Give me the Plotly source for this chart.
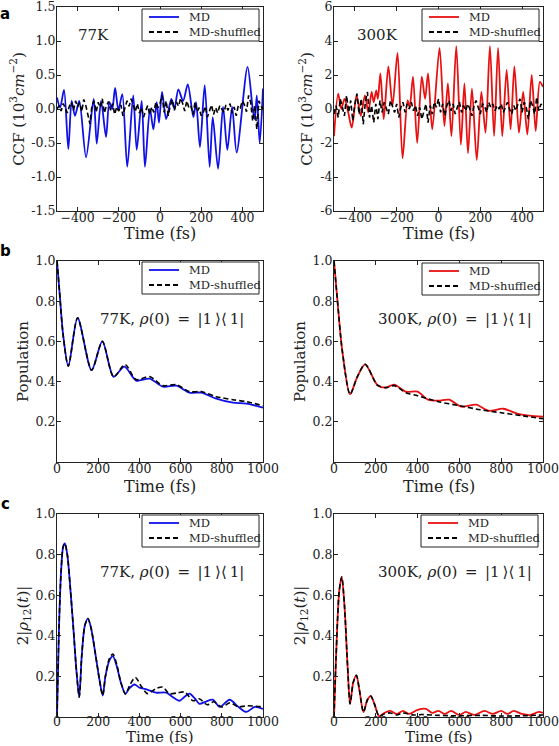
import plotly.graph_objects as go

# ---------------- data ----------------
# Panel a: cross-correlation functions (10^3 cm^-2) vs time (fs)
ccf77_md_t = [-500,-485,-466,-445,-429,-413,-392,-359,-322,-307,-286,-262,-246,-232,-218,-202,-183,-159,-130,-113,
              -89,-73,-49,-32,-16,-5,10,30,55,70,89,112,135,162,175,194,217,241,256,282,306,327,350,372,425,450,460,470,484,500]
ccf77_md_v = [0.17,0.02,0.28,-0.59,0.12,-0.10,0.12,-0.71,0.15,-0.51,0.12,-0.41,0.10,0.00,0.31,-0.02,0.22,-0.85,0.20,-0.60,
              0.12,-0.85,0.00,-0.30,0.10,-0.20,0.25,-0.15,0.15,0.00,0.29,0.12,0.36,-0.12,0.10,-0.56,0.35,-0.85,-0.12,-0.88,
              0.03,-0.60,0.03,-0.64,0.62,0.00,-0.15,0.20,-0.50,0.30]

ccf_shuf_t = list(range(-500, 501, 10))
ccf77_shuf_v = [0.00,0.05,-0.03,0.08,0.02,-0.06,0.04,0.10,-0.02,0.12,
                0.03,0.09,-0.04,0.14,0.05,-0.10,-0.22,0.06,0.12,-0.05,
                0.10,0.02,0.15,-0.06,0.05,0.11,-0.02,0.08,-0.08,0.03,
                -0.03,0.06,-0.10,0.02,0.12,0.04,0.15,0.06,-0.04,0.08,
                -0.06,0.02,-0.12,-0.03,0.05,-0.08,0.03,-0.05,0.10,0.02,
                0.08,0.20,-0.05,0.12,-0.10,0.05,0.14,-0.02,0.10,0.04,
                0.16,0.08,-0.03,0.12,0.02,0.05,-0.08,0.10,-0.04,0.02,
                -0.10,-0.05,0.04,-0.12,-0.02,0.06,-0.08,0.02,-0.06,0.05,
                0.00,-0.05,0.06,-0.02,0.08,-0.06,0.03,-0.10,0.05,0.02,
                0.12,0.06,-0.04,0.20,0.10,-0.18,0.05,-0.30,0.12,0.04,
                0.00]

ccf300_md_t = [-500,-480,-465,-450,-432,-415,-392,-372,-352,-336,-320,-310,-298,-290,-278,-262,-240,-220,-196,-172,
               -148,-138,-122,-102,-80,-64,-50,-30,5,28,45,62,85,107,124,141,160,183,205,225,
               246,266,285,305,326,345,363,385,405,425,446,465,485,500]
ccf300_md_v = [-1.6,0.9,0.0,0.6,-0.2,-1.1,0.8,-0.4,0.8,-0.2,1.0,0.4,1.1,0.6,2.1,-0.6,2.5,0.2,3.3,-2.9,
               0.5,0.1,1.9,-2.0,1.9,0.6,2.1,-1.2,3.6,-1.0,1.5,-1.6,3.7,-2.1,1.5,-2.6,1.2,-3.0,1.0,-1.4,
               3.7,-1.6,3.6,-1.6,2.3,-1.2,2.5,-1.4,1.0,-1.5,2.0,-1.3,1.6,1.3]
ccf300_shuf_v = [-0.3,0.2,-0.5,0.6,0.1,-0.4,0.8,-0.2,0.5,-0.7,
                 0.3,0.9,-0.3,0.6,-0.9,0.4,1.0,-0.5,0.2,-0.8,
                 0.3,-0.6,0.5,-0.2,0.4,0.1,-0.3,0.5,0.2,-0.2,
                 0.3,-0.5,0.1,0.4,-0.2,0.3,0.0,0.4,-0.1,0.2,
                 -0.4,0.1,-0.6,-0.2,0.3,-0.8,0.2,-0.3,0.4,0.1,
                 0.6,-0.2,0.3,-0.4,0.2,0.5,-0.1,0.3,-0.3,0.1,
                 0.4,-0.2,0.2,-0.1,0.3,0.0,-0.4,0.2,0.5,0.1,
                 -0.3,0.3,0.2,-0.2,0.4,0.1,0.3,-0.1,0.2,0.0,
                 0.3,-0.2,0.1,0.4,0.0,-0.3,0.2,-0.1,0.3,0.6,
                 -0.2,0.4,0.1,-0.6,0.5,0.2,-0.3,0.7,-0.1,0.3,
                 0.1]

# Panel b: population of site 1
pop77_md_t = [0,12,30,55,100,168,220,275,327,384,449,514,579,643,700,773,854,920,1000]
pop77_md_v = [1.0,0.85,0.63,0.477,0.717,0.457,0.60,0.424,0.475,0.405,0.415,0.375,0.38,0.345,0.345,0.315,0.295,0.29,0.27]
pop77_sh_t = [0,12,30,55,100,168,220,275,330,384,449,514,579,643,700,773,854,920,1000]
pop77_sh_v = [1.0,0.85,0.63,0.477,0.717,0.457,0.60,0.424,0.485,0.41,0.425,0.38,0.385,0.35,0.35,0.325,0.31,0.30,0.28]

pop300_md_t = [0,15,40,77,110,149,208,248,288,344,400,450,500,550,610,680,740,810,880,1000]
pop300_md_v = [1.0,0.82,0.55,0.337,0.42,0.486,0.382,0.37,0.385,0.35,0.35,0.31,0.305,0.31,0.275,0.285,0.255,0.265,0.24,0.225]
pop300_sh_t = [0,15,40,77,110,149,208,248,288,344,400,500,600,700,800,900,1000]
pop300_sh_v = [1.0,0.82,0.55,0.337,0.42,0.486,0.382,0.37,0.38,0.345,0.33,0.30,0.28,0.26,0.245,0.23,0.215]

# Panel c: coherence 2|rho12(t)|
coh77_md_t = [0,10,20,30,38,50,65,80,95,108,120,135,150,165,185,205,222,235,255,271,290,310,332,350,376,400,
              441,480,530,560,595,620,643,670,692,720,757,790,838,880,919,960,1000]
coh77_md_v = [0.0,0.45,0.72,0.84,0.855,0.80,0.63,0.43,0.22,0.098,0.30,0.45,0.485,0.44,0.32,0.19,0.106,0.20,0.28,0.30,
              0.25,0.17,0.114,0.14,0.16,0.145,0.134,0.12,0.12,0.10,0.08,0.10,0.115,0.09,0.065,0.075,0.085,0.05,0.085,
              0.05,0.025,0.05,0.04]
coh77_sh_t = [0,10,20,30,38,50,65,80,95,108,120,135,150,165,185,205,222,235,255,271,290,310,332,355,380,410,
              440,480,514,545,590,620,660,690,730,760,800,840,880,920,1000]
coh77_sh_v = [0.0,0.45,0.72,0.84,0.855,0.80,0.63,0.43,0.22,0.098,0.30,0.45,0.485,0.44,0.32,0.19,0.106,0.20,0.29,0.31,
              0.26,0.17,0.114,0.16,0.195,0.15,0.115,0.14,0.147,0.115,0.12,0.123,0.08,0.09,0.06,0.075,0.05,0.07,0.05,
              0.055,0.05]

coh300_md_t = [0,10,25,37,50,65,77,92,107,122,141,160,176,195,216,240,270,300,330,360,400,440,470,500,530,560,
               600,630,670,720,760,800,830,860,900,940,980,1000]
coh300_md_v = [0.0,0.30,0.62,0.69,0.55,0.25,0.065,0.17,0.205,0.13,0.024,0.085,0.103,0.06,0.004,0.02,0.03,0.015,
               0.03,0.015,0.035,0.04,0.02,0.03,0.015,0.03,0.01,0.025,0.01,0.03,0.015,0.03,0.015,0.03,0.015,0.01,0.025,0.02]
coh300_sh_t = [0,10,25,37,50,65,77,92,107,122,141,160,176,195,216,240,270,300,330,380,420,500,600,700,800,900,1000]
coh300_sh_v = [0.0,0.30,0.62,0.69,0.55,0.25,0.065,0.17,0.205,0.13,0.024,0.085,0.103,0.06,0.004,0.015,0.02,0.01,
               0.02,0.01,0.012,0.008,0.006,0.008,0.005,0.006,0.01]

# tick values / labels
ccf_x_ticks = [-400, -200, 0, 200, 400]
ccf_x_text = ["\u2212400", "\u2212200", "0", "200", "400"]
ccf77_y_ticks = [-1.5, -1.0, -0.5, 0.0, 0.5, 1.0, 1.5]
ccf77_y_text = ["-1.5", "-1.0", "-0.5", "0.0", "0.5", "1.0", "1.5"]
ccf300_y_ticks = [-6, -4, -2, 0, 2, 4, 6]
ccf300_y_text = ["-6", "-4", "-2", "0", "2", "4", "6"]
time_ticks = [0, 200, 400, 600, 800, 1000]
frac_ticks = [0.2, 0.4, 0.6, 0.8, 1.0]
frac_text = ["0.2", "0.4", "0.6", "0.8", "1.0"]
legend_labels = ["MD", "MD-shuffled"]
x_title = "Time (fs)"

# ---------------- figure ----------------
W, H = 559, 746
SERIF = "DejaVu Serif, Liberation Serif, serif"
BLUE = "#1010e8"
RED = "#e81010"
INK = "#222"

def px_x(p):
    return p / W

def px_y(p):
    return 1 - p / H

fig = go.Figure()

panels = [
    ("", BLUE, ccf77_md_t, ccf77_md_v, ccf_shuf_t, ccf77_shuf_v, "linear"),
    ("2", RED, ccf300_md_t, ccf300_md_v, ccf_shuf_t, ccf300_shuf_v, "linear"),
    ("3", BLUE, pop77_md_t, pop77_md_v, pop77_sh_t, pop77_sh_v, "spline"),
    ("4", RED, pop300_md_t, pop300_md_v, pop300_sh_t, pop300_sh_v, "spline"),
    ("5", BLUE, coh77_md_t, coh77_md_v, coh77_sh_t, coh77_sh_v, "spline"),
    ("6", RED, coh300_md_t, coh300_md_v, coh300_sh_t, coh300_sh_v, "spline"),
]

for suf, col, mt, mv, st, sv, ss in panels:
    fig.add_trace(go.Scatter(x=mt, y=mv, mode="lines", name=legend_labels[0], showlegend=False,
                             line=dict(color=col, width=1.8, shape="spline", smoothing=0.8),
                             xaxis="x" + suf, yaxis="y" + suf))
    fig.add_trace(go.Scatter(x=st, y=sv, mode="lines", name=legend_labels[1], showlegend=False,
                             line=dict(color="black", width=1.6, dash="5px,3px", shape=ss, smoothing=0.8),
                             xaxis="x" + suf, yaxis="y" + suf))

# domains (pixel boxes)
col_x = [(57, 263), (334, 543)]
row_y = [(7, 211), (261, 462), (514, 717)]
xtitle_y = [233, 486, 737]
xtitle_size = [16, 16, 15]

axis_common = dict(showline=True, linecolor=INK, linewidth=1.2, mirror="ticks",
                   ticks="inside", ticklen=4, tickcolor=INK, tickwidth=1,
                   showgrid=False, zeroline=False, automargin=False, ticklabeloverflow="allow",
                   tickfont=dict(family=SERIF, size=12.5, color=INK))

layout = dict(width=W, height=H, margin=dict(l=0, r=0, t=0, b=0, autoexpand=False),
              paper_bgcolor="white", plot_bgcolor="white", showlegend=False,
              font=dict(family=SERIF, color=INK), hovermode=False)

ytitles = ["CCF (10<sup>3</sup><i>cm</i><sup>\u22122</sup>)", "CCF (10<sup>3</sup><i>cm</i><sup>\u22122</sup>)",
           "Population", "Population",
           "2|<i>\u03c1</i><sub>12</sub>(<i>t</i>)|", "2|<i>\u03c1</i><sub>12</sub>(<i>t</i>)|"]

for i in range(6):
    r, c = divmod(i, 2)
    suf = "" if i == 0 else str(i + 1)
    x0, x1 = col_x[c]
    y0, y1 = row_y[r]
    xa = dict(axis_common, domain=[px_x(x0), px_x(x1)], anchor="y" + suf,
              ticklabelstandoff=(-7 if r == 2 else -5))
    ya = dict(axis_common, domain=[px_y(y1), px_y(y0)], anchor="x" + suf, ticklabelstandoff=-2,
              title=dict(text=ytitles[i], font=dict(family=SERIF, size=15, color=INK), standoff=3))
    if r == 0:
        xa.update(range=[-500, 500], tickvals=ccf_x_ticks, ticktext=ccf_x_text)
        if c == 0:
            ya.update(range=[-1.5, 1.5], tickvals=ccf77_y_ticks, ticktext=ccf77_y_text)
        else:
            ya.update(range=[-6, 6], tickvals=ccf300_y_ticks, ticktext=ccf300_y_text)
    else:
        xa.update(range=[0, 1000], tickvals=time_ticks)
        ya.update(range=[0, 1.0], tickvals=frac_ticks, ticktext=frac_text)
    layout["xaxis" + suf] = xa
    layout["yaxis" + suf] = ya

fig.update_layout(**layout)

# x-axis titles placed under each panel
for r in range(3):
    for c in range(2):
        x0, x1 = col_x[c]
        fig.add_annotation(text=x_title, x=px_x((x0 + x1) / 2), y=px_y(xtitle_y[r]), xref="paper", yref="paper",
                           showarrow=False, xanchor="center", yanchor="middle",
                           font=dict(family=SERIF, size=xtitle_size[r], color=INK))

# hand-drawn legend boxes (pixel top-left corners), width 117 x height 32
leg_boxes = [(142, 9, BLUE), (422, 9, RED), (142, 262, BLUE), (422, 263, RED), (142, 515, BLUE), (421, 515, RED)]
for lx, ly, col in leg_boxes:
    fig.add_shape(type="rect", xref="paper", yref="paper",
                  x0=px_x(lx), x1=px_x(lx + 117), y0=px_y(ly + 32), y1=px_y(ly),
                  line=dict(color=INK, width=1), fillcolor="white", layer="above")
    for k, (lab, lc, dash) in enumerate([(legend_labels[0], col, "solid"), (legend_labels[1], "black", "5px,3px")]):
        yy = ly + 8 + 15 * k
        fig.add_shape(type="line", xref="paper", yref="paper",
                      x0=px_x(lx + 7), x1=px_x(lx + 37), y0=px_y(yy), y1=px_y(yy),
                      line=dict(color=lc, width=1.8, dash=dash), layer="above")
        fig.add_annotation(text=lab, x=px_x(lx + 45), y=px_y(yy), xref="paper", yref="paper",
                           showarrow=False, xanchor="left", yanchor="middle",
                           font=dict(family=SERIF, size=11.5, color=INK))

# annotations
SP = "\u2002"
label77 = "77K, <i>\u03c1</i>(0)" + SP + "=" + SP + "|1\u2009\u27e9\u27e8\u20091|"
label300 = "300K, <i>\u03c1</i>(0)" + SP + "=" + SP + "|1\u2009\u27e9\u27e8\u20091|"
ann = [
    ("77K", 93, 35, 15), ("300K", 377, 35, 15),
    (label77, 172, 319, 15), (label300, 455, 319, 15),
    (label77, 172, 572, 15), (label300, 455, 572, 15),
]
for text, ax_, ay_, fs in ann:
    fig.add_annotation(text=text, x=px_x(ax_), y=px_y(ay_), xref="paper", yref="paper",
                       showarrow=False, font=dict(family=SERIF, size=fs, color=INK),
                       xanchor="center", yanchor="middle")

for letter, lx, ly in [("a", 5, 14), ("b", 5, 251), ("c", 5, 504)]:
    fig.add_annotation(text="<b>" + letter + "</b>", x=px_x(lx), y=px_y(ly), xref="paper", yref="paper",
                       showarrow=False, font=dict(family="DejaVu Sans, Arial, sans-serif", size=15, color="black"),
                       xanchor="center", yanchor="middle")

fig.write_html("out.html", config={"displayModeBar": False},
               post_script="document.body.style.margin='0px';")
